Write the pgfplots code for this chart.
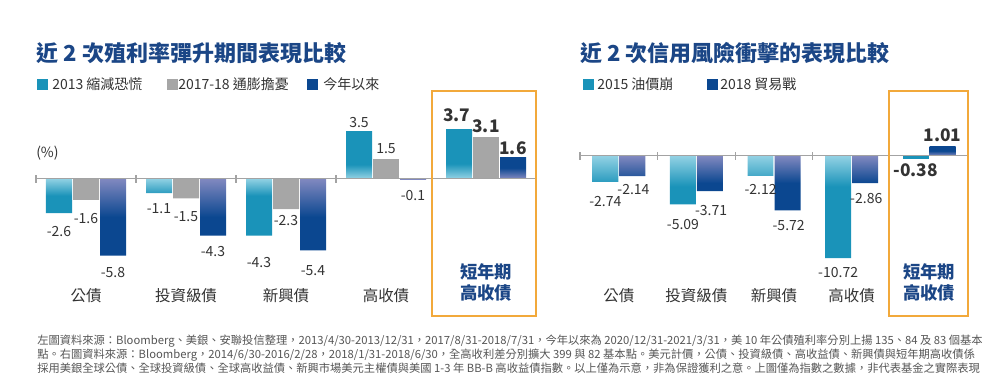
\documentclass[border=0pt]{standalone}
\usepackage{fontspec}
\setmainfont{Noto Sans CJK TC}
\usepackage{pgfplots}
\pgfplotsset{compat=1.18}
\definecolor{barteal}{HTML}{1A93B9}
\definecolor{teallight}{HTML}{93D2E4}
\definecolor{barblue}{HTML}{0B4790}
\definecolor{bluelight}{HTML}{8289C0}
\definecolor{bargray}{HTML}{A6A6A6}
\definecolor{titleblue}{HTML}{1B4686}
\definecolor{txt}{HTML}{333333}
\definecolor{notegray}{HTML}{555555}
\definecolor{boxorange}{HTML}{F2A93B}
\definecolor{axisgray}{HTML}{A3A3A3}
\pgfdeclareverticalshading{tealneg}{100bp}{color(0bp)=(barteal); color(25bp)=(barteal); color(60bp)=(barteal); color(75bp)=(teallight); color(100bp)=(teallight)}
\pgfdeclareverticalshading{tealpos}{100bp}{color(0bp)=(teallight); color(25bp)=(teallight); color(40bp)=(barteal); color(100bp)=(barteal)}
\pgfdeclareverticalshading{blueneg}{100bp}{color(0bp)=(barblue); color(25bp)=(barblue); color(50bp)=(barblue); color(75bp)=(bluelight); color(100bp)=(bluelight)}
\pgfdeclareverticalshading{bluepos}{100bp}{color(0bp)=(bluelight); color(25bp)=(bluelight); color(50bp)=(barblue); color(100bp)=(barblue)}
\newcommand\shortlab{\fontsize{13}{15.75}\selectfont\bfseries\color{titleblue}\raisebox{-2.25pt}[\height][\depth]{\begin{tabular}{@{}c@{}}短年期\\高收債\end{tabular}}}
\pgfplotsset{
  mybase/.style={scale only axis, anchor=south west, height=168.75pt,
    xmin=-0.5, xmax=4.5, axis line style={draw=none}, major tick length=0pt,
    ytick=\empty, xtick={0,1,2,3,4}, clip=false, point meta=explicit symbolic,
    xticklabels={公債,投資級債,新興債,高收債,\shortlab},
    xticklabel style={anchor=south, inner sep=0pt, yshift=9.75pt,
      font=\fontsize{11.6}{14}\selectfont, text=txt}},
  dyshift/.style={visualization depends on={\thisrow{dy} \as \dy},
    every node near coord/.append style={yshift=\dy pt}},
  neglab/.style={nodes near coords, dyshift, every node near coord/.append style={anchor=north, xshift=#1, yshift=-5.25pt, font=\fontsize{10.5}{12}\selectfont, text=txt}},
  poslab/.style={nodes near coords, dyshift, every node near coord/.append style={anchor=south, xshift=#1, font=\fontsize{10.5}{12}\selectfont, text=txt}},
  boldneg/.style={nodes near coords, dyshift, every node near coord/.append style={anchor=north, xshift=#1, font=\fontsize{13}{15}\selectfont\bfseries, text=txt}},
  boldpos/.style={nodes near coords, dyshift, every node near coord/.append style={anchor=south, xshift=#1, font=\fontsize{13}{15}\selectfont\bfseries, text=txt}},
  lbar/.style={ybar, bar width=0.26, draw=none},
  rbar/.style={ybar, bar width=0.335, draw=none},
}
\begin{document}
\begin{tikzpicture}
\useasboundingbox (0,0) rectangle (750pt,-291.75pt);
% titles
\node[anchor=west, inner sep=0, font=\fontsize{16.5}{18}\selectfont\bfseries, text=titleblue] at (27.5pt,-39.5pt) {近 2 次殖利率彈升期間表現比較};
\node[anchor=west, inner sep=0, font=\fontsize{16.5}{18}\selectfont\bfseries, text=titleblue] at (435pt,-39.5pt) {近 2 次信用風險衝擊的表現比較};
% legends
\fill[barteal] (27.5pt,-59.1pt) rectangle ++(8.25pt,-8.25pt);
\node[anchor=west, inner sep=0, font=\fontsize{10.5}{12}\selectfont, text=txt] at (39pt,-63.2pt) {2013 縮減恐慌};
\fill[bargray] (125pt,-59.1pt) rectangle ++(8.25pt,-8.25pt);
\node[anchor=west, inner sep=0, font=\fontsize{10.5}{12}\selectfont, text=txt] at (133.5pt,-63.2pt) {2017-18 通膨擔憂};
\fill[barblue] (230.25pt,-59.1pt) rectangle ++(8.25pt,-8.25pt);
\node[anchor=west, inner sep=0, font=\fontsize{10.5}{12}\selectfont, text=txt] at (242.25pt,-63.2pt) {今年以來};
\fill[barteal] (437.25pt,-59.1pt) rectangle ++(8.25pt,-8.25pt);
\node[anchor=west, inner sep=0, font=\fontsize{10.5}{12}\selectfont, text=txt] at (447.75pt,-63.2pt) {2015 油價崩};
\fill[barblue] (530.25pt,-59.1pt) rectangle ++(8.25pt,-8.25pt);
\node[anchor=west, inner sep=0, font=\fontsize{10.5}{12}\selectfont, text=txt] at (540pt,-63.2pt) {2018 貿易戰};
\node[anchor=west, inner sep=0, font=\fontsize{10.5}{12}\selectfont, text=txt] at (27pt,-114.5pt) {(\%)};
% left chart
\begin{axis}[mybase, at={(27pt,-237pt)}, width=375pt, ymin=-10.34, ymax=6.58]
\addplot[lbar, bar shift=-0.27, shade, shading=tealneg, neglab=-20.25pt] table[x=x, y=y, meta=lab] {
x y lab dy
0 -2.6 -2.6 -1.5
1 -1.1 -1.1 0.75
2 -4.3 -4.3 -7.5
};
\addplot[lbar, bar shift=-0.27, shade, shading=tealpos, poslab=-20.25pt] table[x=x, y=y, meta=lab] {
x y lab dy
3 3.5 3.5 0
};
\addplot[lbar, bar shift=-0.27, shade, shading=tealpos, boldpos=-22pt] table[x=x, y=y, meta=lab] {
x y lab dy
4 3.7 3.7 2
};
\addplot[lbar, bar shift=0, fill=bargray, neglab=0pt] table[x=x, y=y, meta=lab] {
x y lab dy
0 -1.6 -1.6 -1.25
1 -1.5 -1.5 -1
2 -2.3 -2.3 3.75
};
\addplot[lbar, bar shift=0, fill=bargray, poslab=0pt] table[x=x, y=y, meta=lab] {
x y lab dy
3 1.5 1.5 0
};
\addplot[lbar, bar shift=0, fill=bargray, boldpos=0pt] table[x=x, y=y, meta=lab] {
x y lab dy
4 3.1 3.1 0
};
\addplot[lbar, bar shift=0.27, shade, shading=blueneg, neglab=20.25pt] table[x=x, y=y, meta=lab] {
x y lab dy
0 -5.8 -5.8 0
1 -4.3 -4.3 0.75
2 -5.4 -5.4 -2.25
3 -0.1 -0.1 0.75
};
\addplot[lbar, bar shift=0.27, shade, shading=bluepos, boldpos=20.25pt] table[x=x, y=y, meta=lab] {
x y lab dy
4 1.6 1.6 -1.5
};
\draw[axisgray, line width=0.8pt] (axis cs:-0.5,0) -- (axis cs:4.5,0);
\draw[axisgray, line width=0.8pt] ([yshift=-3pt]axis cs:-0.5,0) -- ([yshift=3pt]axis cs:-0.5,0);
\draw[axisgray, line width=0.8pt] ([yshift=-3pt]axis cs:0.5,0) -- ([yshift=3pt]axis cs:0.5,0);
\draw[axisgray, line width=0.8pt] ([yshift=-3pt]axis cs:1.5,0) -- ([yshift=3pt]axis cs:1.5,0);
\draw[axisgray, line width=0.8pt] ([yshift=-3pt]axis cs:2.5,0) -- ([yshift=3pt]axis cs:2.5,0);
\draw[boxorange, line width=1.1pt] (rel axis cs:0.792,0) rectangle (rel axis cs:1,1);
\end{axis}
% right chart
\begin{axis}[mybase, at={(435pt,-237pt)}, width=291pt, ymin=-16.78, ymax=6.77]
\addplot[rbar, bar shift=-0.174, shade, shading=tealneg, neglab=-10.1pt] table[x=x, y=y, meta=lab] {
x y lab dy
0 -2.74 -2.74 -2.25
1 -5.09 -5.09 -2.25
2 -2.12 -2.12 2.25
3 -10.72 -10.72 1.7
};
\addplot[rbar, bar shift=-0.174, fill=barteal, boldneg=-10.1pt] table[x=x, y=y, meta=lab] {
x y lab dy
4 -0.38 -0.38 0
};
\addplot[rbar, bar shift=0.174, shade, shading=blueneg, neglab=11pt] table[x=x, y=y, meta=lab] {
x y lab dy
0 -2.14 -2.14 3
1 -3.71 -3.71 -1.5
2 -5.72 -5.72 1.5
3 -2.86 -2.86 1
};
\addplot[rbar, bar shift=0.174, shade, shading=bluepos, boldpos=10.1pt] table[x=x, y=y, meta=lab] {
x y lab dy
4 1.01 1.01 0
};
\draw[axisgray, line width=0.8pt] (axis cs:-0.5,0) -- (axis cs:4.5,0);
\draw[axisgray, line width=0.8pt] ([yshift=-3pt]axis cs:-0.5,0) -- ([yshift=3pt]axis cs:-0.5,0);
\draw[axisgray, line width=0.8pt] ([yshift=-3pt]axis cs:0.5,0) -- ([yshift=3pt]axis cs:0.5,0);
\draw[axisgray, line width=0.8pt] ([yshift=-3pt]axis cs:1.5,0) -- ([yshift=3pt]axis cs:1.5,0);
\draw[axisgray, line width=0.8pt] ([yshift=-3pt]axis cs:2.5,0) -- ([yshift=3pt]axis cs:2.5,0);
\draw[boxorange, line width=1.1pt] (rel axis cs:0.796,0) rectangle (rel axis cs:1,1);
\end{axis}
% footnote
\node[anchor=north west, inner sep=0, align=left, font=\fontsize{8.45}{10.5}\selectfont, text=notegray] at (27.75pt,-251pt) {左圖資料來源：Bloomberg、美銀、安聯投信整理，2013/4/30-2013/12/31，2017/8/31-2018/7/31，今年以來為 2020/12/31-2021/3/31，美 10 年公債殖利率分別上揚 135、84 及 83 個基本\\點。右圖資料來源：Bloomberg，2014/6/30-2016/2/28，2018/1/31-2018/6/30，全高收利差分別擴大 399 與 82 基本點。美元計價，公債、投資級債、高收益債、新興債與短年期高收債係\\採用美銀全球公債、全球投資級債、全球高收益債、新興市場美元主權債與美國 1-3 年 BB-B 高收益債指數。以上僅為示意，非為保證獲利之意。上圖僅為指數之數據，非代表基金之實際表現};
\end{tikzpicture}
\end{document}
